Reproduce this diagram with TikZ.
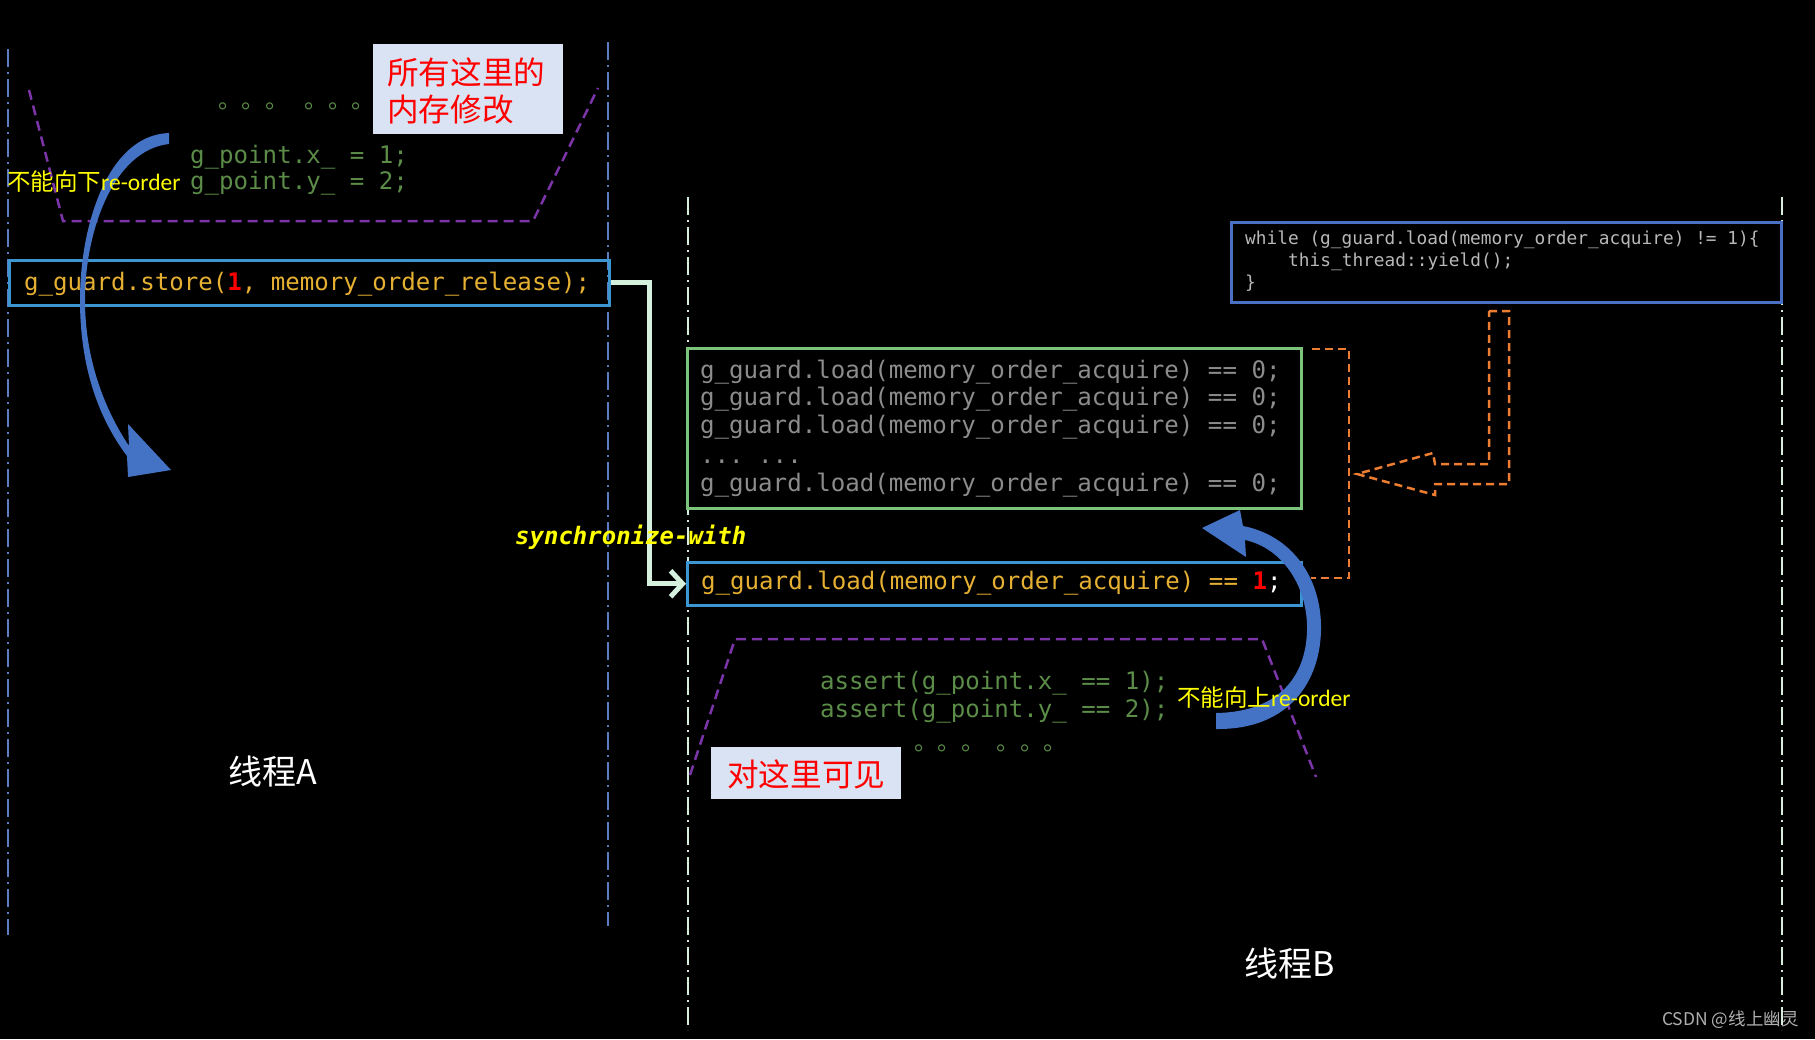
\documentclass[tikz,border=0pt]{standalone}
\usepackage{fontspec}
\usetikzlibrary{arrows.meta,calc}
\newfontfamily\codefont{DejaVu Sans Mono}
\newfontfamily\cjk{Noto Sans CJK SC}
\newfontfamily\carlito{Carlito}
\definecolor{threadA}{HTML}{5A7CC0}
\definecolor{threadB}{HTML}{D8EEDC}
\definecolor{gold}{HTML}{E6B032}
\definecolor{codegreen}{HTML}{5B8C48}
\definecolor{codegrey}{HTML}{8C8C8C}
\definecolor{whilegrey}{HTML}{B8B8B8}
\definecolor{purp}{HTML}{7B35A8}
\definecolor{cyanbox}{HTML}{3C96D2}
\definecolor{greenbox}{HTML}{7CC47C}
\definecolor{bluebox}{HTML}{4A70C4}
\definecolor{orng}{HTML}{ED7D31}
\definecolor{arrowblue}{HTML}{4472C4}
\definecolor{mint}{HTML}{D5F0DC}
\definecolor{lblfill}{HTML}{DAE3F3}
\definecolor{lblred}{HTML}{FF0000}
\definecolor{yel}{HTML}{FFFF00}
\definecolor{wm}{HTML}{B0B0B0}
\frenchspacing
\begin{document}
\begin{tikzpicture}[x=1pt,y=-1pt,
  threadlineA/.style={draw=threadA, line width=2pt, dash pattern=on 18pt off 5pt on 2pt off 5pt},
  threadlineB/.style={draw=threadB, line width=2pt, dash pattern=on 18pt off 5pt on 2pt off 5pt},
  code/.style={inner sep=0pt, anchor=base west, font=\codefont\fontsize{24.1}{28}\selectfont},
  smallcode/.style={inner sep=0pt, anchor=base west, font=\codefont\fontsize{17.8}{22}\selectfont, text=whilegrey},
  codebox/.style={rectangle, line width=2.5pt, inner sep=0pt, anchor=north west},
  lblbox/.style={rectangle, fill=lblfill, inner sep=0pt, anchor=north west},
  lbltext/.style={inner sep=0pt, anchor=west, align=left, text=lblred, font=\cjk\fontsize{31.6}{37}\selectfont},
  yellowlbl/.style={inner sep=0pt, anchor=west, text=yel, font=\cjk\fontsize{23.5}{28}\selectfont},
  threadlbl/.style={inner sep=0pt, text=white, font=\cjk\fontsize{34}{40}\selectfont},
  trap/.style={draw=purp, line width=2.5pt, dash pattern=on 10pt off 6pt},
  orangedash/.style={draw=orng, line width=2.5pt, dash pattern=on 8pt off 5pt},
  sync/.style={draw=mint, line width=5pt, -{Straight Barb[length=12pt,width=26pt]}},
  dots/.style={inner sep=0pt, anchor=base west, text=codegreen, font=\cjk\fontsize{23.5}{28}\selectfont},
  bluearrow/.style={fill=arrowblue, draw=none}
]
\fill[black] (0,0) rectangle (1815,1039);
\useasboundingbox (0,0) rectangle (1815,1039);

% thread lines
\coordinate (aLt) at (8,49);    \coordinate (aLb) at (8,935);
\coordinate (aRt) at (608,42);  \coordinate (aRb) at (608,926);
\coordinate (bLt) at (688,197); \coordinate (bLb) at (688,1030);
\coordinate (bRt) at (1782,197);\coordinate (bRb) at (1782,1030);
\draw[threadlineA] (aLt) -- (aLb);
\draw[threadlineA] (aRt) -- (aRb);
\draw[threadlineB] (bLt) -- (bLb);
\draw[threadlineB] (bRt) -- (bRb);

% purple trapezoids
\draw[trap] (29,90) -- (63,221) -- (533,221) -- (598,88);
\draw[trap] (690,775) -- (735,639) -- (1262,639) -- (1316,777);

% thread A code
\node[dots] (dotsA) at (218,108) {。。。\hspace{16pt}。。。};
\node[code, text=codegreen] (px) at (190,163) {g\_point.x\_ = 1;};
\node[code, text=codegreen] (py) at (190,189) {g\_point.y\_ = 2;};

% store box
\node[codebox, draw=cyanbox, minimum width=600pt, minimum height=45pt] (storebox) at (8,259) {};
\node[code, text=gold] (storetxt) at (24,290) {g\_guard.store({\color{lblred}\bfseries 1}, memory\_order\_release);};

% label box 1
\node[lblbox, minimum width=190pt, minimum height=90pt] (lbl1) at (373,44) {};
\node[lbltext] (lbl1txt) at (387,91) {所有这里的\\内存修改};

% while box
\node[codebox, draw=bluebox, minimum width=550pt, minimum height=80pt] (whilebox) at (1230,221) {};
\node[smallcode] (while1) at (1245,244) {while (g\_guard.load(memory\_order\_acquire) != 1)\{};
\node[smallcode] (while2) at (1288,266) {this\_thread::yield();};
\node[smallcode] (while3) at (1245,288) {\}};

% green box with loads
\node[codebox, draw=greenbox, minimum width=614pt, minimum height=160pt] (greenbox) at (686,347) {};
\node[code, text=codegrey] (l1) at (700,378) {g\_guard.load(memory\_order\_acquire) == 0;};
\node[code, text=codegrey] (l2) at (700,405) {g\_guard.load(memory\_order\_acquire) == 0;};
\node[code, text=codegrey] (l3) at (700,433) {g\_guard.load(memory\_order\_acquire) == 0;};
\node[code, text=codegrey] (l4) at (700,463) {... ...};
\node[code, text=codegrey] (l5) at (700,491) {g\_guard.load(memory\_order\_acquire) == 0;};

% load == 1 box
\node[codebox, draw=cyanbox, minimum width=614pt, minimum height=43pt] (loadbox) at (686,561) {};
\node[code, text=gold] (loadtxt) at (701,589) {g\_guard.load(memory\_order\_acquire) == {\color{lblred}\bfseries 1}{\color{white};}};

% asserts
\node[code, text=codegreen] (ax) at (820,689) {assert(g\_point.x\_ == 1);};
\node[code, text=codegreen] (ay) at (820,717) {assert(g\_point.y\_ == 2);};
\node[dots] (dotsB) at (914,750) {。。。\hspace{12pt}。。。};

% label box 2
\node[lblbox, minimum width=190pt, minimum height=52pt] (lbl2) at (711,747) {};
\node[lbltext] (lbl2txt) at (727,774) {对这里可见};

% synchronize-with connector
\draw[sync] (storebox.east) -- ++(38.5,0) |- (loadbox.west);
\node[inner sep=0pt, anchor=west, text=yel, font=\codefont\bfseries\itshape\fontsize{24}{28}\selectfont] (synclbl) at (515,537) {synchronize-with};

% orange bracket and bent arrow
\draw[orangedash] (1312,349) -- (1349,349) -- (1349,578) -- (1311,578);
\draw[orangedash] (1489,311) -- (1509,311) -- (1509,484) -- (1435,484) -- (1435,495) -- (1357,474) -- (1433,453) -- (1435,464) -- (1489,464) -- cycle;

% blue curved arrows
\fill[bluearrow] (169,133) .. controls (108,135) and (80,225) .. (80,300)
  .. controls (80,370) and (100,420) .. (127,456) -- (128,477) -- (171,470) -- (128,424) -- (129,446)
  .. controls (105,410) and (85,360) .. (85,300) .. controls (85,230) and (114,150) .. (169,144) -- cycle;
\fill[bluearrow] (1216,729) .. controls (1290,730) and (1322,680) .. (1321,625)
  .. controls (1320,575) and (1290,535) .. (1243,526) -- (1240,510) -- (1202,528) -- (1246,557) -- (1245,540)
  .. controls (1282,548) and (1306,585) .. (1307,625) .. controls (1308,675) and (1280,712) .. (1216,713) -- cycle;

% yellow labels (on top of the arrows)
\node[yellowlbl] (downlbl) at (7,182) {不能向下{\carlito re-order}};
\node[yellowlbl] (uplbl) at (1177,698) {不能向上{\carlito re-order}};

% thread labels
\node[threadlbl] (thA) at (273,772) {线程A};
\node[threadlbl] (thB) at (1290,963) {线程B};

% watermark
\node[inner sep=0pt, anchor=west, text=wm, font=\cjk\fontsize{17.5}{20}\selectfont] (wmark) at (1662,1020) {CSDN @线上幽灵};
\end{tikzpicture}
\end{document}
